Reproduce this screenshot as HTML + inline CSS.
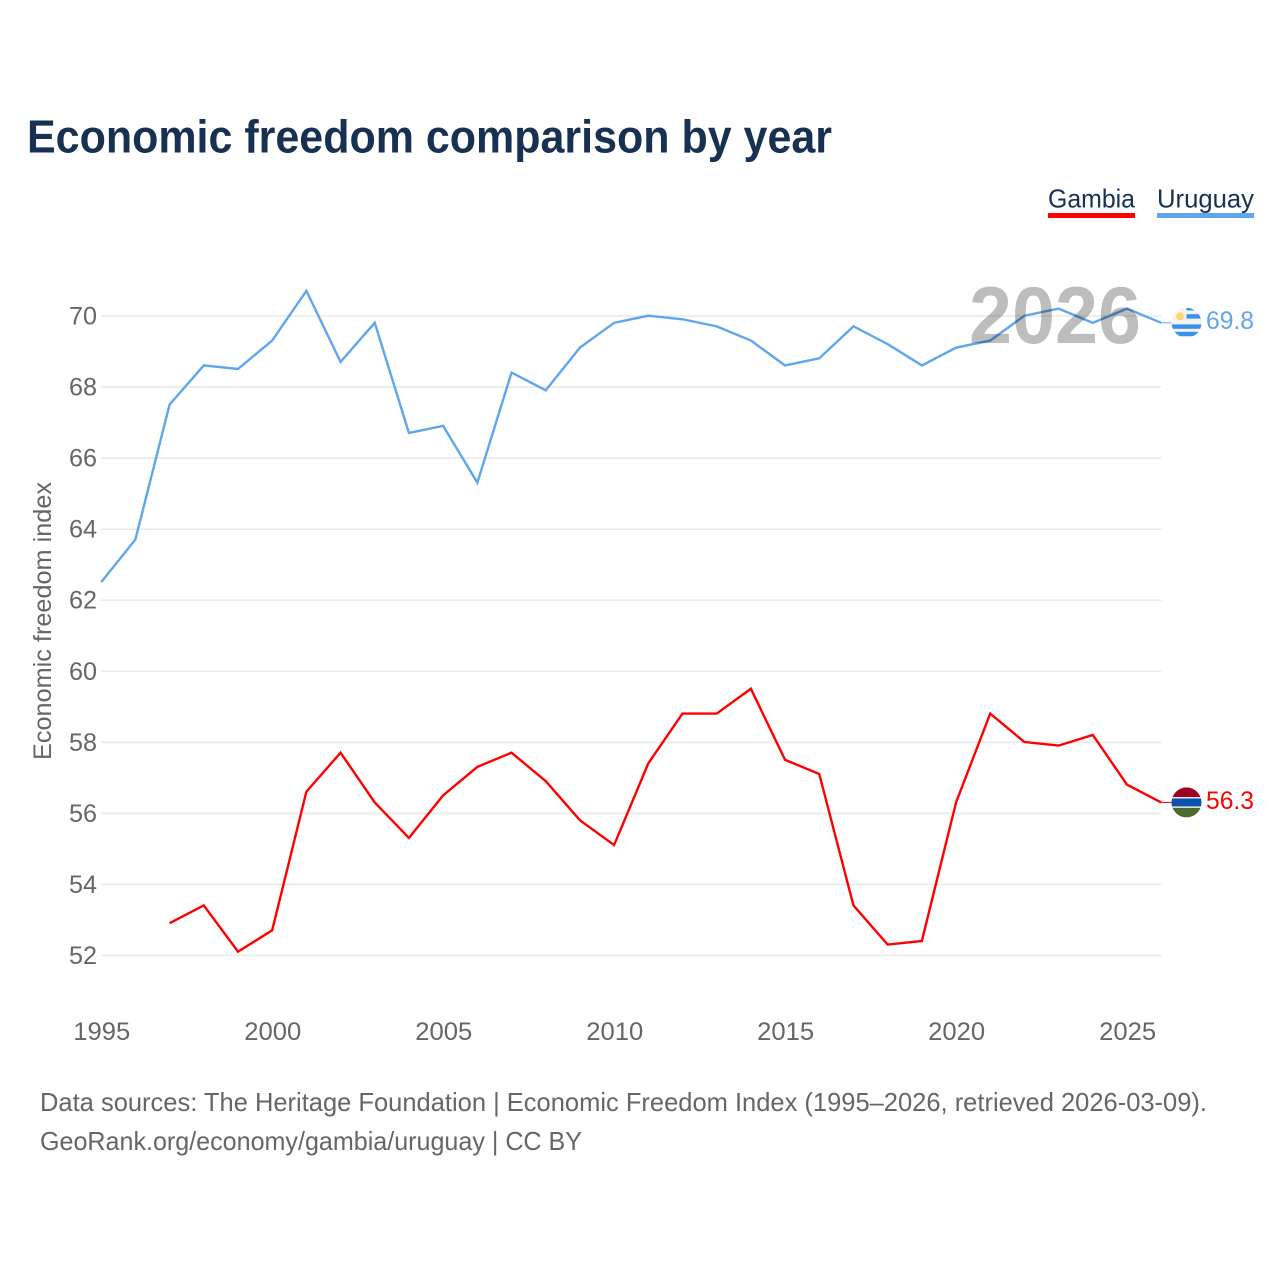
<!DOCTYPE html>
<html lang="en">
<head>
<meta charset="utf-8">
<title>Economic freedom comparison by year</title>
<style>
html,body{margin:0;padding:0;background:#fff;width:1280px;height:1280px;overflow:hidden}
svg{display:block;font-family:"Liberation Sans",sans-serif}
</style>
</head>
<body>
<svg id="chart" xmlns="http://www.w3.org/2000/svg" width="1280" height="1280" viewBox="0 0 1280 1280">
  <rect width="1280" height="1280" fill="#fff"/>
  <text x="27" y="152.5" font-size="46" font-weight="700" fill="#183153" textLength="805" lengthAdjust="spacingAndGlyphs">Economic freedom comparison by year</text>

  <g>
    <g>
      <text x="1048" y="207.5" font-size="26" fill="#183153" textLength="87" lengthAdjust="spacingAndGlyphs">Gambia</text>
      <rect x="1048" y="213" width="87" height="5" fill="#ff0000"/>
    </g>
    <g>
      <text x="1157" y="207.5" font-size="26" fill="#183153" textLength="97" lengthAdjust="spacingAndGlyphs">Uruguay</text>
      <rect x="1157" y="213" width="97" height="5" fill="#5fa6ee"/>
    </g>
  </g>

  <g id="grid"></g>
  <g id="yTicks"></g>
  <g id="xTicks"></g>
  <text transform="translate(51 621) rotate(-90)" text-anchor="middle" font-size="25" fill="#666" textLength="278" lengthAdjust="spacingAndGlyphs">Economic freedom index</text>

  <g id="series"></g>

  <text x="969" y="343" font-size="81" font-weight="700" fill="#000" fill-opacity="0.26" textLength="172" lengthAdjust="spacingAndGlyphs">2026</text>

  <defs>
    <clipPath id="flagClipU"><circle id="clipCircleU" r="15"/></clipPath>
    <clipPath id="flagClipG"><circle id="clipCircleG" r="15"/></clipPath>
  </defs>
  <g id="endMarks"></g>

  <text x="40" y="1111" font-size="26" fill="#666" textLength="1167" lengthAdjust="spacingAndGlyphs">Data sources: The Heritage Foundation | Economic Freedom Index (1995–2026, retrieved 2026-03-09).</text>
  <text x="40" y="1150" font-size="26" fill="#666" textLength="542" lengthAdjust="spacingAndGlyphs">GeoRank.org/economy/gambia/uruguay | CC BY</text>
</svg>
<script>
const years = [1995,1996,1997,1998,1999,2000,2001,2002,2003,2004,2005,2006,2007,2008,2009,2010,2011,2012,2013,2014,2015,2016,2017,2018,2019,2020,2021,2022,2023,2024,2025,2026];
const uruguayValues = [62.5,63.7,67.5,68.6,68.5,69.3,70.7,68.7,69.8,66.7,66.9,65.3,68.4,67.9,69.1,69.8,70.0,69.9,69.7,69.3,68.6,68.8,69.7,69.2,68.6,69.1,69.3,70.0,70.2,69.8,70.2,69.8];
const gambiaValues = [null,null,52.9,53.4,52.1,52.7,56.6,57.7,56.3,55.3,56.5,57.3,57.7,56.9,55.8,55.1,57.4,58.8,58.8,59.5,57.5,57.1,53.4,52.3,52.4,56.3,58.8,58.0,57.9,58.2,56.8,56.3];
const yTickValues = [52,54,56,58,60,62,64,66,68,70];
const xTickValues = [1995,2000,2005,2010,2015,2020,2025];

const NS = 'http://www.w3.org/2000/svg';
const xScale = function (year) { return 101.2 + (year - 1995) * (1161.2 - 101.2) / 31; };
const yScale = function (value) { return 955.2 - (value - 52) * (955.2 - 315.7) / 18; };
function make(tag, parent, attrs, text) {
  const el = document.createElementNS(NS, tag);
  for (const k in attrs) el.setAttribute(k, attrs[k]);
  if (text !== undefined) el.textContent = text;
  parent.appendChild(el);
  return el;
}

const grid = document.getElementById('grid');
const yTicks = document.getElementById('yTicks');
yTickValues.forEach(function (v) {
  const line = make('line', grid, {x1: xScale(1995), x2: xScale(2026), y1: yScale(v) + 0.3, y2: yScale(v) + 0.3, stroke: '#e9e9e9', 'stroke-width': 1.6});
  
  
  const label = make('text', yTicks, {x: 97, y: yScale(v) + 8.8, 'text-anchor': 'end', 'font-size': 25, fill: '#666', textLength: 28, lengthAdjust: 'spacingAndGlyphs'}, String(v));
  
  
});

const xTicks = document.getElementById('xTicks');
xTickValues.forEach(function (y) {
  const label = make('text', xTicks, {x: xScale(y) + 0.6, y: 1040, 'text-anchor': 'middle', 'font-size': 25, fill: '#666', textLength: 57, lengthAdjust: 'spacingAndGlyphs'}, String(y));
  
  
});

function pathFor(values) {
  let d = '', started = false;
  values.forEach(function (v, i) {
    if (v === null) return;
    d += (started ? 'L' : 'M') + xScale(years[i]).toFixed(2) + ' ' + yScale(v).toFixed(2);
    started = true;
  });
  return d;
}
const seriesGroup = document.getElementById('series');
const lineGambia = make('path', seriesGroup, {d: pathFor(gambiaValues), fill: 'none', stroke: '#ff0000', 'stroke-width': 2.4, 'stroke-linejoin': 'miter'});


const lineUruguay = make('path', seriesGroup, {d: pathFor(uruguayValues), fill: 'none', stroke: '#5fa6ee', 'stroke-width': 2.4, 'stroke-linejoin': 'miter'});



const endMarks = document.getElementById('endMarks');
const lastU = uruguayValues[uruguayValues.length - 1];
const lastG = gambiaValues[gambiaValues.length - 1];
const FLAG_X = 1186.5;
const yU = yScale(lastU);
const yG = yScale(lastG);

const connU = make('line', endMarks, {x1: xScale(2026), x2: 1172, y1: yU, y2: yU, stroke: '#5fa6ee', 'stroke-width': 1});


const connG = make('line', endMarks, {x1: xScale(2026), x2: 1172, y1: yG, y2: yG, stroke: '#ff0000', 'stroke-width': 1});



// Uruguay flag
const clipU = document.getElementById('clipCircleU');
clipU.setAttribute('cx', FLAG_X);
clipU.setAttribute('cy', yU);
const flagU = make('g', endMarks, {'clip-path': 'url(#flagClipU)'});


make('rect', flagU, {x: FLAG_X - 15, y: yU - 15, width: 30, height: 30, fill: '#f3f3f3'});
make('rect', flagU, {x: FLAG_X, y: yU - 15, width: 15, height: 2.6, fill: '#3a92e8'});
make('rect', flagU, {x: FLAG_X, y: yU - 8.6, width: 15, height: 4.4, fill: '#3a92e8'});
make('rect', flagU, {x: FLAG_X - 15, y: yU + 1.6, width: 30, height: 4.4, fill: '#3a92e8'});
make('rect', flagU, {x: FLAG_X - 15, y: yU + 9, width: 30, height: 4.4, fill: '#3a92e8'});
make('circle', flagU, {cx: FLAG_X - 6.5, cy: yU - 6.5, r: 3.8, fill: '#fdd663'});

// Gambia flag
const clipG = document.getElementById('clipCircleG');
clipG.setAttribute('cx', FLAG_X);
clipG.setAttribute('cy', yG);
const flagG = make('g', endMarks, {'clip-path': 'url(#flagClipG)'});


make('rect', flagG, {x: FLAG_X - 15, y: yG - 15, width: 30, height: 30, fill: '#f4f4f4'});
make('rect', flagG, {x: FLAG_X - 15, y: yG - 15, width: 30, height: 9.6, fill: '#a0001f'});
make('rect', flagG, {x: FLAG_X - 15, y: yG - 4, width: 30, height: 8, fill: '#0a52b0'});
make('rect', flagG, {x: FLAG_X - 15, y: yG + 5.4, width: 30, height: 9.6, fill: '#4b6a2c'});

const valueU = make('text', endMarks, {x: 1206, y: yU + 6, 'font-size': 25, fill: '#5fa6ee', textLength: 48, lengthAdjust: 'spacingAndGlyphs'}, lastU.toFixed(1));


const valueG = make('text', endMarks, {x: 1206, y: yG + 6.5, 'font-size': 25, fill: '#ff0000', textLength: 48, lengthAdjust: 'spacingAndGlyphs'}, lastG.toFixed(1));


</script>
</body>
</html>
